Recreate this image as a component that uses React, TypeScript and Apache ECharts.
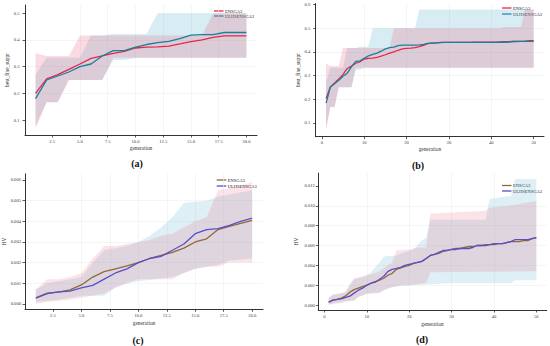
import React, { useEffect, useRef } from 'react';
import * as echarts from 'echarts';

const FONT = "'Liberation Serif', 'DejaVu Serif', serif";

// ---------- generations ----------
const gens20 = [1, 2, 3, 4, 5, 6, 7, 8, 9, 10, 11, 12, 13, 14, 15, 16, 17, 18, 19, 20];
const gens50 = Array.from({ length: 50 }, (_, i) => i + 1);

// ---------- tick labels ----------
const xTicks20 = [2.5, 5, 7.5, 10, 12.5, 15, 17.5, 20];
const xTicks50 = [0, 10, 20, 30, 40, 50];
const yTicksA = [0.1, 0.2, 0.3, 0.4, 0.5];
const yTicksB = [0.1, 0.2, 0.3, 0.4, 0.5, 0.6];
const yTicksC = [0, 0.001, 0.002, 0.003, 0.004, 0.005, 0.006];
const yTicksD = [0, 0.002, 0.004, 0.006, 0.008, 0.01, 0.012];

const seriesNames = ['ENSGA3', 'ULHSENSGA3'];
const panelLabels = ['(a)', '(b)', '(c)', '(d)'];

// ---------- (a) best_fine_suppr, 20 generations ----------
const aEnsga = [0.2, 0.254, 0.27, 0.29, 0.31, 0.331, 0.34, 0.35, 0.357, 0.37, 0.373, 0.374, 0.377, 0.385, 0.394, 0.4, 0.41, 0.415, 0.415, 0.415];
const aUlhs = [0.18, 0.25, 0.265, 0.28, 0.3, 0.31, 0.34, 0.36, 0.36, 0.373, 0.383, 0.39, 0.395, 0.405, 0.418, 0.42, 0.42, 0.428, 0.428, 0.428];
const aEnsgaUpper = [[1, 0.35], [2, 0.34], [4, 0.34], [5, 0.417], [16, 0.417], [17, 0.5], [20, 0.5]];
const aEnsgaLower = [[1, 0.067], [2, 0.167], [3, 0.167], [4, 0.25], [7, 0.25], [8, 0.333], [20, 0.333]];
const aUlhsUpper = [[1, 0.27], [2, 0.333], [5, 0.333], [6, 0.417], [7, 0.417], [8, 0.422], [11, 0.422], [12, 0.5], [20, 0.5]];
const aUlhsLower = [[1, 0.08], [2, 0.167], [3, 0.167], [4, 0.25], [7, 0.25], [8, 0.325], [9, 0.325], [10, 0.333], [20, 0.333]];

// ---------- (b) best_fine_suppr, 50 generations ----------
const bEnsga = [0.203, 0.252, 0.268, 0.285, 0.305, 0.33, 0.34, 0.352, 0.358, 0.37, 0.373, 0.374, 0.377, 0.382, 0.388, 0.395, 0.4, 0.407, 0.413, 0.415,
  0.416, 0.418, 0.422, 0.428, 0.435, 0.437, 0.438, 0.44, 0.44, 0.44, 0.44, 0.44, 0.44, 0.44, 0.44, 0.441, 0.441, 0.441, 0.441, 0.441,
  0.441, 0.442, 0.443, 0.443, 0.444, 0.445, 0.445, 0.446, 0.448, 0.448];
const bUlhs = [0.183, 0.25, 0.265, 0.28, 0.297, 0.31, 0.338, 0.36, 0.362, 0.373, 0.383, 0.39, 0.395, 0.403, 0.413, 0.418, 0.42, 0.427, 0.429, 0.429,
  0.429, 0.429, 0.43, 0.432, 0.436, 0.437, 0.438, 0.439, 0.44, 0.44, 0.44, 0.44, 0.44, 0.44, 0.44, 0.44, 0.44, 0.44, 0.44, 0.44,
  0.44, 0.441, 0.441, 0.442, 0.444, 0.444, 0.445, 0.445, 0.445, 0.445];
const bEnsgaUpper = [[1, 0.35], [2, 0.34], [4, 0.34], [5, 0.417], [16, 0.417], [17, 0.5], [42, 0.5], [43, 0.505], [47, 0.505], [48, 0.58], [50, 0.58]];
const bEnsgaLower = [[1, 0.067], [2, 0.167], [3, 0.167], [4, 0.25], [7, 0.25], [8, 0.333], [50, 0.333]];
const bUlhsUpper = [[1, 0.27], [2, 0.333], [5, 0.333], [6, 0.417], [8, 0.417], [9, 0.422], [11, 0.422], [12, 0.5], [22, 0.5], [23, 0.58], [50, 0.58]];
const bUlhsLower = [[1, 0.08], [2, 0.167], [3, 0.167], [4, 0.25], [7, 0.25], [8, 0.325], [9, 0.325], [10, 0.333], [50, 0.333]];

// ---------- (c) HV, 20 generations ----------
const cEnsga = [0.0003, 0.00052, 0.00057, 0.00068, 0.00092, 0.0013, 0.00156, 0.0017, 0.00184, 0.002, 0.0022, 0.00235, 0.0025, 0.0027, 0.003, 0.00315, 0.0036, 0.00375, 0.0039, 0.00405];
const cUlhs = [0.00028, 0.0005, 0.00058, 0.00062, 0.00078, 0.0009, 0.0012, 0.0015, 0.0017, 0.002, 0.0022, 0.0023, 0.0026, 0.0029, 0.0034, 0.0036, 0.00365, 0.0038, 0.004, 0.00415];
const cEnsgaUpper = [[1, 0.0007], [2, 0.0012], [3, 0.0012], [4, 0.0013], [5, 0.0015], [6, 0.0022], [7, 0.0028], [8, 0.0028], [9, 0.0029], [10, 0.003], [11, 0.0031], [12, 0.0033], [13, 0.0034], [14, 0.0037], [15, 0.004], [16, 0.0042], [17, 0.0055], [18, 0.0056], [19, 0.0057], [20, 0.0059]];
const cEnsgaLower = [[1, 0], [2, 0.0001], [3, 0.00015], [4, 0.0002], [5, 0.0003], [6, 0.0004], [7, 0.0005], [8, 0.0008], [9, 0.001], [10, 0.0012], [13, 0.0012], [14, 0.0015], [15, 0.0017], [16, 0.0018], [17, 0.0018], [18, 0.002], [20, 0.002]];
const cUlhsUpper = [[1, 0.0007], [2, 0.001], [4, 0.0012], [5, 0.0013], [6, 0.002], [7, 0.0026], [9, 0.0028], [10, 0.003], [11, 0.0033], [12, 0.0037], [13, 0.0042], [14, 0.0049], [16, 0.005], [17, 0.0052], [18, 0.0053], [20, 0.0055]];
const cUlhsLower = [[1, 0.0001], [2, 0.00015], [3, 0.0002], [4, 0.0003], [5, 0.0004], [7, 0.0004], [8, 0.0008], [9, 0.001], [10, 0.0011], [13, 0.0013], [14, 0.0015], [15, 0.0017], [16, 0.0018], [17, 0.0019], [18, 0.0021], [20, 0.0022]];

// ---------- (d) HV, 50 generations ----------
const dEnsga = [0.0003, 0.0005, 0.00057, 0.0007, 0.00092, 0.0013, 0.00155, 0.0017, 0.00185, 0.002, 0.0022, 0.00235, 0.0025, 0.0027, 0.003, 0.0032, 0.0036, 0.00375, 0.0039, 0.004,
  0.0042, 0.0043, 0.0044, 0.0047, 0.005, 0.0051, 0.0052, 0.0054, 0.0055, 0.0056, 0.0057, 0.0057, 0.0058, 0.0059, 0.0059, 0.006, 0.006, 0.0061, 0.0061, 0.0061,
  0.0062, 0.0062, 0.0063, 0.0064, 0.0064, 0.0064, 0.0065, 0.0065, 0.0067, 0.0068];
const dUlhs = [0.00028, 0.0005, 0.00058, 0.00062, 0.00078, 0.0009, 0.0012, 0.0015, 0.0017, 0.002, 0.0022, 0.0023, 0.0026, 0.0029, 0.0034, 0.0036, 0.0037, 0.0038, 0.004, 0.0041,
  0.0042, 0.0043, 0.0044, 0.0047, 0.005, 0.0051, 0.0053, 0.0055, 0.0055, 0.0056, 0.0056, 0.0057, 0.0057, 0.0057, 0.0058, 0.006, 0.006, 0.006, 0.0061, 0.0062,
  0.0062, 0.0062, 0.0063, 0.0064, 0.0066, 0.0066, 0.0066, 0.0066, 0.0067, 0.0068];
const dEnsgaUpper = [[1, 0.0007], [2, 0.0011], [4, 0.0012], [5, 0.0014], [6, 0.0021], [7, 0.0027], [8, 0.0028], [10, 0.003], [12, 0.0032], [13, 0.0034], [14, 0.0037], [15, 0.004], [16, 0.0043], [17, 0.0055], [20, 0.0056], [22, 0.0058], [24, 0.0058], [25, 0.0092], [38, 0.0095], [39, 0.0098], [45, 0.0101], [50, 0.0105]];
const dEnsgaLower = [[1, 0], [2, 0.0001], [4, 0.0002], [5, 0.0003], [6, 0.0004], [7, 0.0005], [8, 0.0008], [10, 0.0012], [13, 0.0012], [14, 0.0015], [16, 0.0018], [18, 0.002], [20, 0.002], [24, 0.0022], [25, 0.0033], [50, 0.0034]];
const dUlhsUpper = [[1, 0.0007], [2, 0.001], [5, 0.0013], [6, 0.002], [7, 0.0026], [9, 0.0028], [10, 0.003], [11, 0.0033], [12, 0.0038], [13, 0.0043], [14, 0.0049], [17, 0.005], [18, 0.0052], [21, 0.0056], [23, 0.0065], [24, 0.0068], [25, 0.0086], [38, 0.0086], [39, 0.0107], [44, 0.011], [45, 0.0127], [50, 0.0127]];
const dUlhsLower = [[1, 0.0001], [2, 0.00015], [4, 0.0003], [5, 0.0004], [7, 0.0004], [8, 0.0008], [10, 0.0011], [13, 0.0013], [15, 0.0017], [17, 0.0019], [20, 0.002], [25, 0.0021], [30, 0.0022], [44, 0.0022], [45, 0.0025], [50, 0.0025]];

// ---------- styles ----------
const RED = '#e8264c';
const TEAL = '#17819a';
const BROWN = '#8f6a35';
const PURPLE = '#5a4ec8';
const PINK_FILL_TOP = 'rgba(230, 90, 120, 0.22)';
const BLUE_FILL_TOP = 'rgba(100, 180, 210, 0.25)';
const PINK_FILL_BOTTOM = 'rgba(230, 90, 120, 0.17)';
const BLUE_FILL_BOTTOM = 'rgba(100, 180, 210, 0.21)';
const AXIS_COLOR = '#333';
const GRID_COLOR = '#eeeeee';

type Panel = {
  grid: { left: number; top: number; width: number; height: number };
  xMin: number; xMax: number; yMin: number; yMax: number;
  xTicks: number[]; yTicks: number[]; xDec: number; yDec: number;
  yName: string; xNameGap: number; yNameGap: number; yLabelMargin: number;
  gens: number[]; e: number[]; u: number[];
  eUp: number[][]; eLo: number[][]; uUp: number[][]; uLo: number[][];
  cE: string; cU: string; fE: string; fU: string;
  legend: { x: number; y: number; dy: number };
  label: { x: number; y: number };
};

const panels: Panel[] = [
  {
    grid: { left: 25, top: 5, width: 232, height: 130 },
    xMin: 0.05, xMax: 20.95, yMin: 0.044, yMax: 0.531,
    xTicks: xTicks20, yTicks: yTicksA, xDec: 1, yDec: 1,
    yName: 'best_fine_suppr', xNameGap: 10, yNameGap: 12.3, yLabelMargin: 5.5,
    gens: gens20, e: aEnsga, u: aUlhs, eUp: aEnsgaUpper, eLo: aEnsgaLower, uUp: aUlhsUpper, uLo: aUlhsLower,
    cE: RED, cU: TEAL, fE: PINK_FILL_TOP, fU: BLUE_FILL_TOP, legend: { x: 214, y: 11, dy: 5 }, label: { x: 137, y: 163 },
  },
  {
    grid: { left: 315.7, top: 3.5, width: 228.3, height: 133.2 },
    xMin: -1.45, xMax: 52.45, yMin: 0.041, yMax: 0.605,
    xTicks: xTicks50, yTicks: yTicksB, xDec: 0, yDec: 1,
    yName: 'best_fine_suppr', xNameGap: 9.7, yNameGap: 13, yLabelMargin: 5.5,
    gens: gens50, e: bEnsga, u: bUlhs, eUp: bEnsgaUpper, eLo: bEnsgaLower, uUp: bUlhsUpper, uLo: bUlhsLower,
    cE: RED, cU: TEAL, fE: PINK_FILL_TOP, fU: BLUE_FILL_TOP, legend: { x: 502, y: 8, dy: 6 }, label: { x: 418, y: 165 },
  },
  {
    grid: { left: 25, top: 173.8, width: 238, height: 135.5 },
    xMin: 0.05, xMax: 20.95, yMin: -0.00026, yMax: 0.0063,
    xTicks: xTicks20, yTicks: yTicksC, xDec: 1, yDec: 3,
    yName: 'HV', xNameGap: 11.3, yNameGap: 17.3, yLabelMargin: 4,
    gens: gens20, e: cEnsga, u: cUlhs, eUp: cEnsgaUpper, eLo: cEnsgaLower, uUp: cUlhsUpper, uLo: cUlhsLower,
    cE: BROWN, cU: PURPLE, fE: PINK_FILL_BOTTOM, fU: BLUE_FILL_BOTTOM, legend: { x: 216.7, y: 180, dy: 6 }, label: { x: 138, y: 340 },
  },
  {
    grid: { left: 318.3, top: 173.1, width: 228.4, height: 136.9 },
    xMin: -1.45, xMax: 52.45, yMin: -0.0005, yMax: 0.0133,
    xTicks: xTicks50, yTicks: yTicksD, xDec: 0, yDec: 3,
    yName: 'HV', xNameGap: 11.3, yNameGap: 20, yLabelMargin: 3.5,
    gens: gens50, e: dEnsga, u: dUlhs, eUp: dEnsgaUpper, eLo: dEnsgaLower, uUp: dUlhsUpper, uLo: dUlhsLower,
    cE: BROWN, cU: PURPLE, fE: PINK_FILL_BOTTOM, fU: BLUE_FILL_BOTTOM, legend: { x: 502, y: 185.5, dy: 5.5 }, label: { x: 422, y: 339 },
  },
];

function bandSeries(upper: number[][], lower: number[][], fill: string, idx: number, z: number) {
  return {
    type: 'custom',
    xAxisIndex: idx,
    yAxisIndex: idx,
    z,
    silent: true,
    data: [upper[0]],
    renderItem: (_params: any, api: any) => {
      const pts = upper.map((p) => api.coord(p)).concat(lower.slice().reverse().map((p) => api.coord(p)));
      return { type: 'polygon', shape: { points: pts }, style: { fill, stroke: 'none' } };
    },
  };
}

function buildOption() {
  const grid: any[] = [];
  const xAxis: any[] = [];
  const yAxis: any[] = [];
  const series: any[] = [];
  const graphic: any[] = [];

  panels.forEach((p, i) => {
    grid.push({ ...p.grid, containLabel: false });
    xAxis.push({
      type: 'value', gridIndex: i, min: p.xMin, max: p.xMax,
      name: 'generation', nameLocation: 'middle', nameGap: p.xNameGap,
      nameTextStyle: { fontFamily: FONT, fontSize: 5.3, color: '#333' },
      axisLine: { show: true, onZero: false, lineStyle: { color: AXIS_COLOR, width: 1 } },
      axisTick: { show: true, length: 2.5, customValues: p.xTicks, lineStyle: { color: AXIS_COLOR, width: 0.8 } },
      axisLabel: { customValues: p.xTicks, formatter: (v: number) => v.toFixed(p.xDec), fontFamily: FONT, fontSize: 4.6, color: '#444', margin: 3.5 },
      splitLine: { show: true, showMinLine: false, showMaxLine: false, lineStyle: { color: GRID_COLOR, width: 0.6 } },
    });
    yAxis.push({
      type: 'value', gridIndex: i, min: p.yMin, max: p.yMax,
      name: p.yName, nameLocation: 'middle', nameGap: p.yNameGap, nameRotate: 90,
      nameTextStyle: { fontFamily: FONT, fontSize: 5.3, color: '#333' },
      axisLine: { show: true, onZero: false, lineStyle: { color: AXIS_COLOR, width: 1 } },
      axisTick: { show: true, length: 2.5, customValues: p.yTicks, lineStyle: { color: AXIS_COLOR, width: 0.8 } },
      axisLabel: { customValues: p.yTicks, formatter: (v: number) => v.toFixed(p.yDec), fontFamily: FONT, fontSize: 4.6, color: '#444', margin: p.yLabelMargin },
      splitLine: { show: true, showMinLine: false, showMaxLine: false, lineStyle: { color: GRID_COLOR, width: 0.6 } },
    });
    series.push(bandSeries(p.uUp, p.uLo, p.fU, i, 1));
    series.push(bandSeries(p.eUp, p.eLo, p.fE, i, 1));
    series.push({
      type: 'line', name: seriesNames[0], xAxisIndex: i, yAxisIndex: i, z: 3,
      data: p.gens.map((g, k) => [g, p.e[k]]), showSymbol: false, symbol: 'none',
      lineStyle: { color: p.cE, width: 1.3 }, itemStyle: { color: p.cE },
    });
    series.push({
      type: 'line', name: seriesNames[1], xAxisIndex: i, yAxisIndex: i, z: 3,
      data: p.gens.map((g, k) => [g, p.u[k]]), showSymbol: false, symbol: 'none',
      lineStyle: { color: p.cU, width: 1.3 }, itemStyle: { color: p.cU },
    });
    // legend
    [p.cE, p.cU].forEach((c, k) => {
      const y = p.legend.y + k * p.legend.dy;
      graphic.push({ type: 'line', shape: { x1: p.legend.x, y1: y, x2: p.legend.x + 9.5, y2: y }, style: { stroke: c, lineWidth: 1.3 }, silent: true });
      graphic.push({ type: 'text', x: p.legend.x + 11, y, style: { text: seriesNames[k], fontFamily: FONT, fontSize: 4.5, fill: '#222', verticalAlign: 'middle', align: 'left' }, silent: true });
    });
    graphic.push({ type: 'text', x: p.label.x, y: p.label.y, style: { text: panelLabels[i], fontFamily: FONT, fontSize: 10, fontWeight: 'bold', fill: '#111', align: 'center', verticalAlign: 'middle' }, silent: true });
  });

  return { animation: false, backgroundColor: '#ffffff', textStyle: { fontFamily: FONT }, grid, xAxis, yAxis, series, graphic };
}

export default function App() {
  const ref = useRef<HTMLDivElement>(null);
  useEffect(() => {
    if (!ref.current) return;
    const chart = echarts.init(ref.current, undefined, { renderer: 'svg' });
    chart.setOption(buildOption() as any);
    return () => chart.dispose();
  }, []);
  return <div ref={ref} style={{ position: 'fixed', left: 0, top: 0, width: 550, height: 346 }} />;
}
